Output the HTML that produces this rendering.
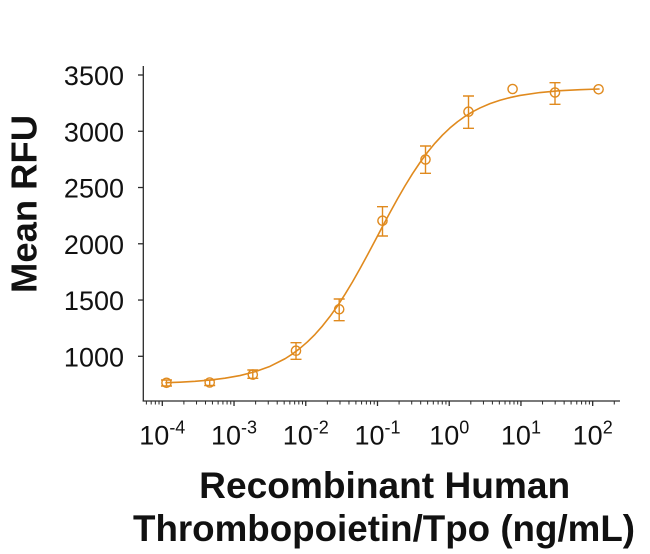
<!DOCTYPE html>
<html>
<head>
<meta charset="utf-8">
<style>
  html, body { margin:0; padding:0; background:#fff; }
  svg { display:block; }
  text { font-family: "Liberation Sans", Arial, sans-serif; fill:#111; }
</style>
</head>
<body>
<svg width="650" height="554" viewBox="0 0 650 554" xmlns="http://www.w3.org/2000/svg">
  <rect width="650" height="554" fill="#fff"/>

  <!-- Axes -->
  <g stroke="#2a2a2a" stroke-width="1.3" fill="none">
    <line x1="143.3" y1="66" x2="143.3" y2="401.5"/>
    <line x1="142.7" y1="401" x2="620" y2="401"/>
    <!-- y ticks -->
    <line x1="138" y1="75" x2="143.3" y2="75"/>
    <line x1="138" y1="131.26" x2="143.3" y2="131.26"/>
    <line x1="138" y1="187.52" x2="143.3" y2="187.52"/>
    <line x1="138" y1="243.78" x2="143.3" y2="243.78"/>
    <line x1="138" y1="300.04" x2="143.3" y2="300.04"/>
    <line x1="138" y1="356.3" x2="143.3" y2="356.3"/>
    <!-- x major ticks -->
    <line x1="162.3" y1="401" x2="162.3" y2="406"/>
    <line x1="234.03" y1="401" x2="234.03" y2="406"/>
    <line x1="305.76" y1="401" x2="305.76" y2="406"/>
    <line x1="377.49" y1="401" x2="377.49" y2="406"/>
    <line x1="449.22" y1="401" x2="449.22" y2="406"/>
    <line x1="520.95" y1="401" x2="520.95" y2="406"/>
    <line x1="592.68" y1="401" x2="592.68" y2="406"/>
  </g>
  <!-- x minor ticks -->
  <g stroke="#2a2a2a" stroke-width="1" fill="none">
    <path d="M146.39 401v3.5M151.19 401v3.5M155.35 401v3.5M159.02 401v3.5
             M183.89 401v3.5M196.52 401v3.5M205.49 401v3.5M212.44 401v3.5M218.12 401v3.5M222.92 401v3.5M227.08 401v3.5M230.75 401v3.5
             M255.62 401v3.5M268.25 401v3.5M277.22 401v3.5M284.17 401v3.5M289.85 401v3.5M294.65 401v3.5M298.81 401v3.5M302.48 401v3.5
             M327.35 401v3.5M339.98 401v3.5M348.95 401v3.5M355.90 401v3.5M361.58 401v3.5M366.38 401v3.5M370.54 401v3.5M374.21 401v3.5
             M399.08 401v3.5M411.71 401v3.5M420.68 401v3.5M427.63 401v3.5M433.31 401v3.5M438.11 401v3.5M442.27 401v3.5M445.94 401v3.5
             M470.81 401v3.5M483.44 401v3.5M492.41 401v3.5M499.36 401v3.5M505.04 401v3.5M509.84 401v3.5M514.00 401v3.5M517.67 401v3.5
             M542.54 401v3.5M555.17 401v3.5M564.14 401v3.5M571.09 401v3.5M576.77 401v3.5M581.57 401v3.5M585.73 401v3.5M589.40 401v3.5
             M614.27 401v3.5"/>
  </g>

  <!-- Y tick labels -->
  <g font-size="27" text-anchor="end">
    <text x="124" y="85">3500</text>
    <text x="124" y="141.3">3000</text>
    <text x="124" y="197.5">2500</text>
    <text x="124" y="253.8">2000</text>
    <text x="124" y="310">1500</text>
    <text x="124" y="366.3">1000</text>
  </g>

  <!-- X tick labels -->
  <g font-size="27" text-anchor="middle">
    <text x="162.3" y="444.5">10<tspan font-size="18" dy="-11">-4</tspan></text>
    <text x="234.03" y="444.5">10<tspan font-size="18" dy="-11">-3</tspan></text>
    <text x="305.76" y="444.5">10<tspan font-size="18" dy="-11">-2</tspan></text>
    <text x="377.49" y="444.5">10<tspan font-size="18" dy="-11">-1</tspan></text>
    <text x="449.22" y="444.5">10<tspan font-size="18" dy="-11">0</tspan></text>
    <text x="520.95" y="444.5">10<tspan font-size="18" dy="-11">1</tspan></text>
    <text x="592.68" y="444.5">10<tspan font-size="18" dy="-11">2</tspan></text>
  </g>

  <!-- Axis titles -->
  <text transform="translate(36.5,204) rotate(-90)" text-anchor="middle" font-size="36" font-weight="bold" textLength="178" lengthAdjust="spacingAndGlyphs">Mean RFU</text>
  <text x="384.7" y="498" text-anchor="middle" font-size="37" font-weight="bold" textLength="371" lengthAdjust="spacingAndGlyphs">Recombinant Human</text>
  <text x="384" y="541" text-anchor="middle" font-size="37" font-weight="bold" textLength="502" lengthAdjust="spacingAndGlyphs">Thrombopoietin/Tpo (ng/mL)</text>

  <!-- Fitted curve -->
  <polyline fill="none" stroke="#E08A1E" stroke-width="1.6" stroke-linejoin="round" stroke-linecap="round"
    points="166,382.70 180,382.14 195,381.28 210,380.02 225,378.18 240,375.54 255,371.73 270,366.32 285,358.74 292.5,353.93 300,348.30 307.5,341.83 315,334.39 322.5,325.92 330,316.42 337.5,305.88 345,294.34 352.5,281.86 360,268.65 367.5,254.88 375,240.73 382.5,226.53 390,212.50 397.5,198.86 405,185.89 412.5,173.72 420,162.50 427.5,152.25 435,143.15 442.5,135.03 450,127.90 457.5,121.73 465,116.39 472.5,111.82 480,107.94 490,103.66 500,100.25 510,97.59 520,95.46 540,92.52 560,90.72 580,89.64 599,89.01"/>

  <!-- Error bars -->
  <g stroke="#E08A1E" stroke-width="1.4" fill="none">
    <path d="M166.5 380v6M161 380h11M161 386h11"/>
    <path d="M209.7 380v5.5M204.2 380h11M204.2 385.5h11"/>
    <path d="M252.8 370v8.3M247.3 370h11M247.3 378.3h11"/>
    <path d="M296 342.7v16.6M290.5 342.7h11M290.5 359.3h11"/>
    <path d="M339.2 299v21.7M333.7 299h11M333.7 320.7h11"/>
    <path d="M382.5 206.7v29.3M377 206.7h11M377 236h11"/>
    <path d="M425.5 146v27.3M420 146h11M420 173.3h11"/>
    <path d="M468.5 96v32.3M463 96h11M463 128.3h11"/>
    <path d="M555 82.7v21.6M549.5 82.7h11M549.5 104.3h11"/>
  </g>

  <!-- Data points -->
  <g stroke="#E08A1E" stroke-width="1.4" fill="none">
    <circle cx="166.5" cy="382.8" r="4.6"/>
    <circle cx="209.7" cy="382.5" r="4.6"/>
    <circle cx="252.8" cy="374.6" r="4.6"/>
    <circle cx="296" cy="350.7" r="4.6"/>
    <circle cx="339.2" cy="309.3" r="4.6"/>
    <circle cx="382.5" cy="220.7" r="4.6"/>
    <circle cx="425.5" cy="159.5" r="4.6"/>
    <circle cx="468.5" cy="111.7" r="4.6"/>
    <circle cx="512.6" cy="89" r="4.6"/>
    <circle cx="555" cy="92.5" r="4.6"/>
    <circle cx="598.6" cy="89.3" r="4.6"/>
  </g>
</svg>
</body>
</html>
